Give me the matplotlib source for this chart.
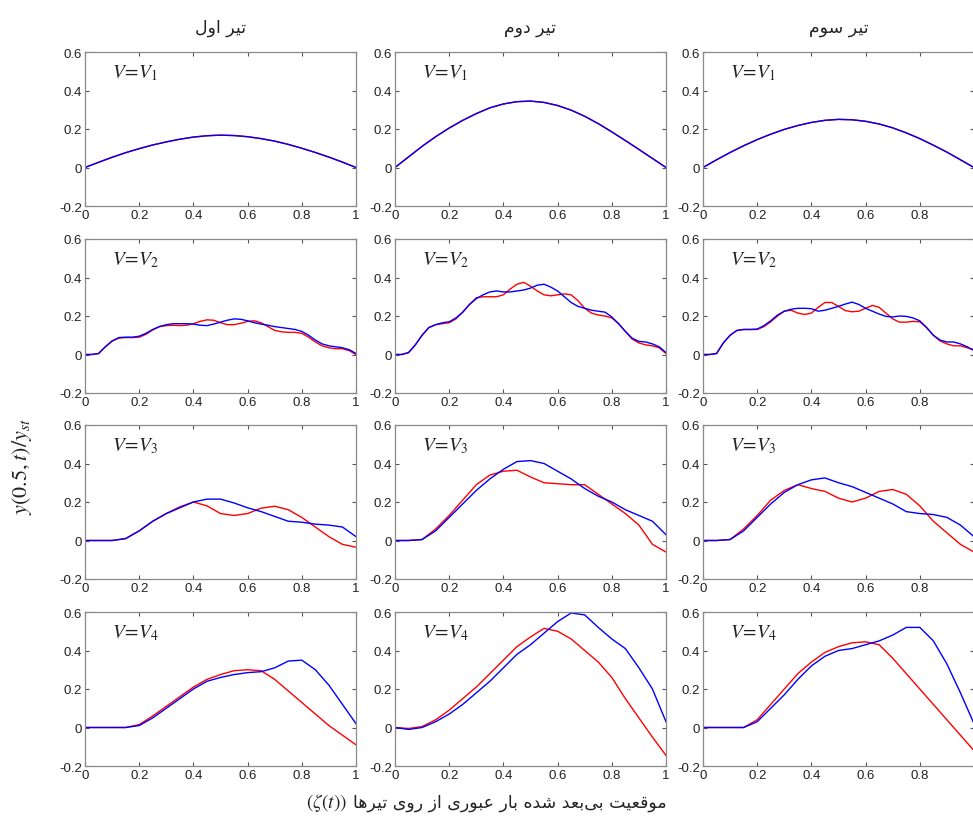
import numpy as np
import matplotlib
matplotlib.use("Agg")
import matplotlib.pyplot as plt

# ---- data ------------------------------------------------------------------
col_titles = ["تیر اول", "تیر دوم", "تیر سوم"]
speed_labels = ["V_1", "V_2", "V_3", "V_4"]

x20 = np.linspace(0, 1, 21)   # step 0.05
x40 = np.linspace(0, 1, 41)   # step 0.025 (wiggly V2 row)

# row 1, V = V1 (red and blue practically identical)
v1_c1 = [0, 0.027, 0.053, 0.077, 0.098, 0.117, 0.133, 0.147, 0.158, 0.165, 0.168,
         0.166, 0.160, 0.150, 0.137, 0.120, 0.100, 0.078, 0.054, 0.028, 0]
v1_c2 = [0, 0.055, 0.110, 0.160, 0.205, 0.245, 0.280, 0.310, 0.330, 0.342, 0.345,
         0.338, 0.322, 0.298, 0.266, 0.228, 0.185, 0.140, 0.094, 0.047, 0]
v1_c3 = [0, 0.040, 0.078, 0.113, 0.145, 0.173, 0.198, 0.218, 0.234, 0.245, 0.250,
         0.248, 0.240, 0.226, 0.206, 0.180, 0.150, 0.116, 0.080, 0.040, 0]

# row 2, V = V2
v2_c1_blue = [0, 0, 0.005, 0.04, 0.07, 0.088, 0.09, 0.09, 0.095, 0.11, 0.13, 0.145, 0.155,
              0.16, 0.16, 0.16, 0.158, 0.152, 0.15, 0.158, 0.168, 0.178, 0.185, 0.183, 0.175,
              0.165, 0.158, 0.152, 0.145, 0.14, 0.135, 0.13, 0.12, 0.10, 0.075, 0.055, 0.045,
              0.04, 0.035, 0.025, 0.005]
v2_c1_red = [0, 0, 0.005, 0.04, 0.07, 0.085, 0.088, 0.088, 0.09, 0.105, 0.128, 0.145, 0.15,
             0.152, 0.15, 0.152, 0.16, 0.172, 0.18, 0.178, 0.165, 0.155, 0.155, 0.162, 0.172,
             0.175, 0.165, 0.145, 0.125, 0.118, 0.115, 0.115, 0.11, 0.09, 0.065, 0.045, 0.035,
             0.03, 0.03, 0.02, 0.0]
v2_c2_blue = [0, 0, 0.01, 0.05, 0.10, 0.14, 0.155, 0.165, 0.17, 0.19, 0.22, 0.26, 0.29,
              0.31, 0.325, 0.33, 0.325, 0.325, 0.33, 0.335, 0.345, 0.36, 0.365, 0.35, 0.33,
              0.30, 0.27, 0.25, 0.24, 0.23, 0.225, 0.22, 0.195, 0.16, 0.12, 0.085, 0.068,
              0.065, 0.055, 0.04, 0.01]
v2_c2_red = [0, 0, 0.01, 0.05, 0.10, 0.14, 0.155, 0.16, 0.165, 0.185, 0.22, 0.26, 0.295,
             0.30, 0.30, 0.30, 0.31, 0.34, 0.365, 0.375, 0.355, 0.33, 0.31, 0.305, 0.31,
             0.315, 0.31, 0.28, 0.24, 0.215, 0.205, 0.20, 0.19, 0.16, 0.12, 0.08, 0.06,
             0.05, 0.045, 0.035, 0.005]
v2_c3_blue = [0, 0, 0.005, 0.06, 0.10, 0.125, 0.13, 0.13, 0.132, 0.15, 0.175, 0.205, 0.225,
              0.235, 0.24, 0.24, 0.238, 0.225, 0.23, 0.24, 0.25, 0.262, 0.272, 0.26, 0.24,
              0.225, 0.21, 0.198, 0.195, 0.20, 0.198, 0.19, 0.175, 0.14, 0.10, 0.075, 0.065,
              0.065, 0.055, 0.04, 0.02]
v2_c3_red = [0, 0, 0.005, 0.06, 0.10, 0.125, 0.13, 0.13, 0.13, 0.145, 0.17, 0.20, 0.225,
             0.23, 0.215, 0.208, 0.215, 0.245, 0.27, 0.27, 0.25, 0.228, 0.222, 0.225, 0.24,
             0.255, 0.245, 0.215, 0.185, 0.168, 0.168, 0.172, 0.17, 0.14, 0.10, 0.07, 0.055,
             0.045, 0.045, 0.035, 0.025]

# row 3, V = V3
v3_c1_blue = [0, 0, 0, 0.01, 0.05, 0.10, 0.14, 0.17, 0.20, 0.215, 0.215,
              0.195, 0.17, 0.15, 0.125, 0.10, 0.095, 0.085, 0.08, 0.07, 0.02]
v3_c1_red = [0, 0, 0, 0.01, 0.05, 0.10, 0.14, 0.175, 0.20, 0.18, 0.14,
             0.13, 0.14, 0.168, 0.178, 0.16, 0.12, 0.07, 0.02, -0.02, -0.035]
v3_c2_blue = [0, 0, 0.005, 0.05, 0.12, 0.19, 0.26, 0.32, 0.37, 0.41, 0.415,
              0.40, 0.36, 0.32, 0.27, 0.23, 0.20, 0.16, 0.13, 0.10, 0.03]
v3_c2_red = [0, 0, 0.005, 0.06, 0.13, 0.21, 0.29, 0.34, 0.36, 0.365, 0.33,
             0.30, 0.295, 0.29, 0.29, 0.24, 0.19, 0.14, 0.08, -0.02, -0.06]
v3_c3_blue = [0, 0, 0.005, 0.05, 0.12, 0.19, 0.25, 0.29, 0.315, 0.325, 0.30,
              0.28, 0.25, 0.22, 0.19, 0.15, 0.14, 0.135, 0.12, 0.08, 0.02]
v3_c3_red = [0, 0, 0.005, 0.06, 0.13, 0.21, 0.26, 0.29, 0.27, 0.255, 0.22,
             0.20, 0.22, 0.255, 0.265, 0.24, 0.18, 0.10, 0.04, -0.02, -0.06]

# row 4, V = V4
v4_c1_blue = [0, 0, 0, 0, 0.01, 0.05, 0.10, 0.15, 0.20, 0.24, 0.26,
              0.275, 0.285, 0.29, 0.31, 0.345, 0.35, 0.30, 0.22, 0.12, 0.02]
v4_c1_red = [0, 0, 0, 0, 0.015, 0.06, 0.11, 0.16, 0.21, 0.25, 0.275,
             0.295, 0.30, 0.295, 0.25, 0.19, 0.13, 0.07, 0.01, -0.04, -0.09]
v4_c2_blue = [0, -0.01, 0.0, 0.03, 0.07, 0.12, 0.18, 0.24, 0.31, 0.38, 0.43,
              0.49, 0.55, 0.595, 0.585, 0.52, 0.46, 0.41, 0.31, 0.20, 0.03]
v4_c2_red = [0, -0.005, 0.005, 0.04, 0.09, 0.15, 0.21, 0.28, 0.35, 0.42, 0.47,
             0.515, 0.50, 0.46, 0.40, 0.34, 0.26, 0.15, 0.05, -0.05, -0.145]
v4_c3_blue = [0, 0, 0, 0, 0.03, 0.10, 0.17, 0.25, 0.32, 0.37, 0.40,
              0.41, 0.43, 0.45, 0.48, 0.52, 0.52, 0.45, 0.33, 0.18, 0.02]
v4_c3_red = [0, 0, 0, 0, 0.04, 0.12, 0.20, 0.28, 0.34, 0.39, 0.42,
             0.44, 0.445, 0.43, 0.36, 0.28, 0.20, 0.12, 0.04, -0.04, -0.12]

rows = [
    [(x20, v1_c1, v1_c1), (x20, v1_c2, v1_c2), (x20, v1_c3, v1_c3)],
    [(x40, v2_c1_red, v2_c1_blue), (x40, v2_c2_red, v2_c2_blue), (x40, v2_c3_red, v2_c3_blue)],
    [(x20, v3_c1_red, v3_c1_blue), (x20, v3_c2_red, v3_c2_blue), (x20, v3_c3_red, v3_c3_blue)],
    [(x20, v4_c1_red, v4_c1_blue), (x20, v4_c2_red, v4_c2_blue), (x20, v4_c3_red, v4_c3_blue)],
]

# ---- simple arabic/persian shaping (matplotlib has no text shaping) ---------
FORMS = {
    "\u0627": ("\uFE8D", "\uFE8E"),
    "\u0628": ("\uFE8F", "\uFE90", "\uFE91", "\uFE92"),
    "\u062A": ("\uFE95", "\uFE96", "\uFE97", "\uFE98"),
    "\u062F": ("\uFEA9", "\uFEAA"),
    "\u0631": ("\uFEAD", "\uFEAE"),
    "\u0632": ("\uFEAF", "\uFEB0"),
    "\u0633": ("\uFEB1", "\uFEB2", "\uFEB3", "\uFEB4"),
    "\u0634": ("\uFEB5", "\uFEB6", "\uFEB7", "\uFEB8"),
    "\u0639": ("\uFEC9", "\uFECA", "\uFECB", "\uFECC"),
    "\u0642": ("\uFED5", "\uFED6", "\uFED7", "\uFED8"),
    "\u0644": ("\uFEDD", "\uFEDE", "\uFEDF", "\uFEE0"),
    "\u0645": ("\uFEE1", "\uFEE2", "\uFEE3", "\uFEE4"),
    "\u0647": ("\uFEE9", "\uFEEA", "\uFEEB", "\uFEEC"),
    "\u0648": ("\uFEED", "\uFEEE"),
    "\u06CC": ("\uFEEF", "\uFEF0", "\uFEF3", "\uFEF4"),
}


def shape_fa(text):
    out = []
    for i, c in enumerate(text):
        if c not in FORMS:
            out.append(c)
            continue
        f = FORMS[c]
        prev = text[i - 1] if i > 0 else None
        nxt = text[i + 1] if i + 1 < len(text) else None
        jp = prev in FORMS and len(FORMS[prev]) == 4
        jn = len(f) == 4 and nxt in FORMS
        if jp and jn:
            out.append(f[3])
        elif jp:
            out.append(f[1])
        elif jn:
            out.append(f[2])
        else:
            out.append(f[0])
    return "".join(out).replace("\u200c", "")[::-1]


# ---- figure -----------------------------------------------------------------
plt.rcParams["mathtext.fontset"] = "stix"
plt.rcParams["font.family"] = ["Liberation Sans", "DejaVu Sans"]

W, H = 973, 820
fig = plt.figure(figsize=(W / 100, H / 100), dpi=100)

lefts = [85, 395, 703]
tops = [53, 240, 426, 613]
aw, ah = 271, 154

for r in range(4):
    for c in range(3):
        ax = fig.add_axes([lefts[c] / W, 1 - (tops[r] + ah) / H, aw / W, ah / H])
        x, red, blue = rows[r][c]
        ax.plot(x, red, color="red", lw=1.0)
        ax.plot(x, blue, color="blue", lw=1.0)
        ax.set_xlim(0, 1)
        ax.set_ylim(-0.2, 0.6)
        ax.set_xticks([0, 0.2, 0.4, 0.6, 0.8, 1])
        # the right column runs past the picture edge, its "1" is not visible
        last = "" if c == 2 else "1"
        ax.set_xticklabels(["0", "0.2", "0.4", "0.6", "0.8", last])
        ax.set_yticks([-0.2, 0, 0.2, 0.4, 0.6])
        ax.set_yticklabels(["-0.2", "0", "0.2", "0.4", "0.6"])
        ax.tick_params(direction="in", length=3, width=0.8, top=True, right=True,
                       labelsize=9.5, labelcolor="#222222", color="#555555", pad=2)
        for s in ax.spines.values():
            s.set_color("#8a8a8a")
            s.set_linewidth(0.9)
        ax.text(0.1, 0.87, r"$V\!=\!%s$" % speed_labels[r], transform=ax.transAxes,
                fontsize=14, ha="left", va="center", color="#222222")
        if r == 0:
            fig.text((lefts[c] + aw / 2) / W, 1 - 28 / H, shape_fa(col_titles[c]),
                     ha="center", va="center", fontsize=12.5, family="DejaVu Sans",
                     color="#222222")

fig.text(22 / W, 1 - 467 / H, r"$y(0.5,t)/y_{st}$", rotation=90, ha="center",
         va="center", fontsize=16, color="#222222")

cap = fig.text(510 / W, 1 - 803 / H, shape_fa("موقعیت بی\u200cبعد شده بار عبوری از روی تیرها"),
               ha="center", va="center", fontsize=12.5, family="DejaVu Sans",
               color="#222222")
ax.annotate(r"$(\zeta(t))$", xy=(0, 0.5), xycoords=cap, xytext=(-4, 0),
            textcoords="offset points", ha="right", va="center", fontsize=14,
            color="#222222", annotation_clip=False)

fig.savefig("out.png", dpi=100)
